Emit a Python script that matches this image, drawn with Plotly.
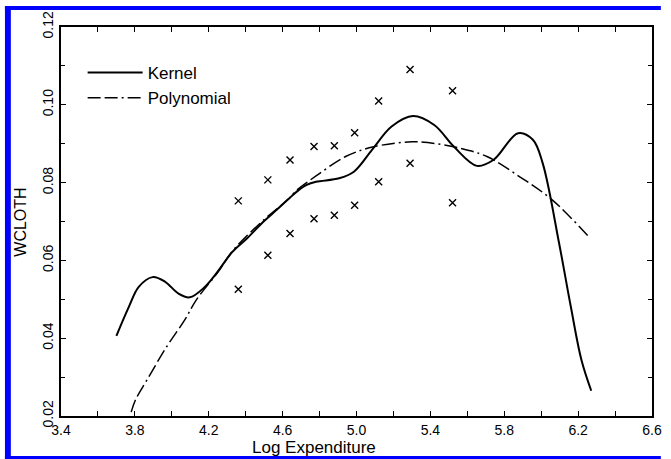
import plotly.graph_objects as go

# Scatter observations (x marks)
obs_x = [4.36, 4.36, 4.52, 4.52, 4.64, 4.64, 4.77, 4.77, 4.88, 4.88,
         4.99, 4.99, 5.12, 5.12, 5.29, 5.29, 5.52, 5.52]
obs_y = [0.0753, 0.0526, 0.0807, 0.0613, 0.0858, 0.0669, 0.0893, 0.0707,
         0.0895, 0.0716, 0.0928, 0.0742, 0.1010, 0.0802, 0.1091, 0.0850,
         0.1036, 0.0748]

# Kernel regression curve
kern_x = [3.70, 3.768, 3.821, 3.896, 3.964, 4.035, 4.097, 4.177, 4.248, 4.328,
          4.408, 4.497, 4.568, 4.63, 4.68, 4.73, 4.781, 4.906, 4.986, 5.084, 5.19,
          5.306, 5.421, 5.528, 5.652, 5.741, 5.875, 5.955, 6.008, 6.097, 6.16,
          6.218, 6.271]
kern_y = [0.0406, 0.0481, 0.0532, 0.0557, 0.0545, 0.0515, 0.0505, 0.0531, 0.0571, 0.0622,
          0.0657, 0.0700, 0.0730, 0.0757, 0.0778, 0.0794, 0.0802, 0.0811, 0.0828, 0.0884, 0.0944,
          0.0971, 0.0948, 0.0892, 0.0843, 0.0858, 0.0927, 0.0910, 0.0850, 0.0644, 0.0482,
          0.0344, 0.0265]

# Polynomial regression curve
poly_x = [3.78, 3.803, 3.866, 3.972, 4.07, 4.132, 4.25, 4.33, 4.50, 4.63, 4.675,
          4.781, 4.941, 5.092, 5.30, 5.386, 5.564, 5.706, 5.884, 6.061, 6.257]
poly_y = [0.0210, 0.0241, 0.0293, 0.0378, 0.0447, 0.0498, 0.0570, 0.0625, 0.0705,
          0.0757, 0.0780, 0.0817, 0.0867, 0.0892, 0.0905, 0.0903, 0.0888, 0.0867,
          0.0815, 0.0755, 0.0661]

x_ticks = [3.4, 3.8, 4.2, 4.6, 5.0, 5.4, 5.8, 6.2, 6.6]
x_ticktext = ["3.4", "3.8", "4.2", "4.6", "5.0", "5.4", "5.8", "6.2", "6.6"]
y_ticks = [0.02, 0.04, 0.06, 0.08, 0.10, 0.12]
y_ticktext = ["0.02", "0.04", "0.06", "0.08", "0.10", "0.12"]

W, H = 671, 459
L, R, T, B = 61, 9, 27, 43
PW, PH = W - L - R, H - T - B

def px(x):
    return (x - L) / PW

def py(y):
    return (H - B - y) / PH

FONT = "Arial, Liberation Sans, sans-serif"

fig = go.Figure()
fig.add_trace(go.Scatter(x=kern_x, y=kern_y, mode="lines", name="Kernel",
                         line=dict(color="black", width=2, shape="spline", smoothing=1.0)))
fig.add_trace(go.Scatter(x=poly_x, y=poly_y, mode="lines", name="Polynomial",
                         line=dict(color="black", width=1.5, shape="spline", smoothing=1.0,
                                   dash="13px,4px,13px,4px,2px,4px")))
fig.add_trace(go.Scatter(x=obs_x, y=obs_y, mode="markers", showlegend=False,
                         marker=dict(symbol="x-thin", size=7, color="black",
                                     line=dict(color="black", width=1.4))))

axis_common = dict(showgrid=False, zeroline=False, showline=True, linecolor="black",
                   linewidth=2, mirror="allticks", ticks="inside", ticklen=5,
                   tickcolor="black", tickwidth=1,
                   tickfont=dict(family=FONT, size=14, color="black"))

fig.update_xaxes(range=[3.4, 6.6], tickvals=x_ticks, ticktext=x_ticktext,
                 minor=dict(dtick=0.2, ticks="inside", ticklen=5, tickcolor="black"),
                 **axis_common)
fig.update_yaxes(range=[0.02, 0.12], tickvals=y_ticks, ticktext=y_ticktext,
                 tickangle=-90,
                 minor=dict(dtick=0.01, ticks="inside", ticklen=4, tickcolor="black"),
                 **axis_common)

# blue frame
blue = "#0000ff"
shapes = [
    dict(type="rect", xref="paper", yref="paper", x0=px(4), x1=px(10), y0=py(459), y1=py(6),
         fillcolor=blue, line=dict(width=0), layer="above"),
    dict(type="rect", xref="paper", yref="paper", x0=px(4), x1=px(671), y0=py(10), y1=py(6),
         fillcolor=blue, line=dict(width=0), layer="above"),
    dict(type="rect", xref="paper", yref="paper", x0=px(4), x1=px(671), y0=py(459), y1=py(456),
         fillcolor=blue, line=dict(width=0), layer="above"),
]

annotations = [
    dict(text="Log Expenditure", xref="paper", yref="paper", x=px(318), y=py(447),
         showarrow=False, font=dict(family=FONT, size=17, color="black"),
         xanchor="center", yanchor="middle"),
    dict(text="WCLOTH", xref="paper", yref="paper", x=px(20), y=py(222),
         showarrow=False, textangle=-90, font=dict(family=FONT, size=16, color="black"),
         xanchor="center", yanchor="middle"),
]

fig.update_layout(
    width=W, height=H,
    margin=dict(l=L, r=R, t=T, b=B),
    paper_bgcolor="white", plot_bgcolor="white",
    shapes=shapes, annotations=annotations,
    showlegend=True,
    legend=dict(x=px(83), y=py(55), xanchor="left", yanchor="top",
                bgcolor="rgba(0,0,0,0)", itemwidth=55,
                font=dict(family=FONT, size=17, color="black"),
                tracegroupgap=0),
)

fig.write_html("out.html")
